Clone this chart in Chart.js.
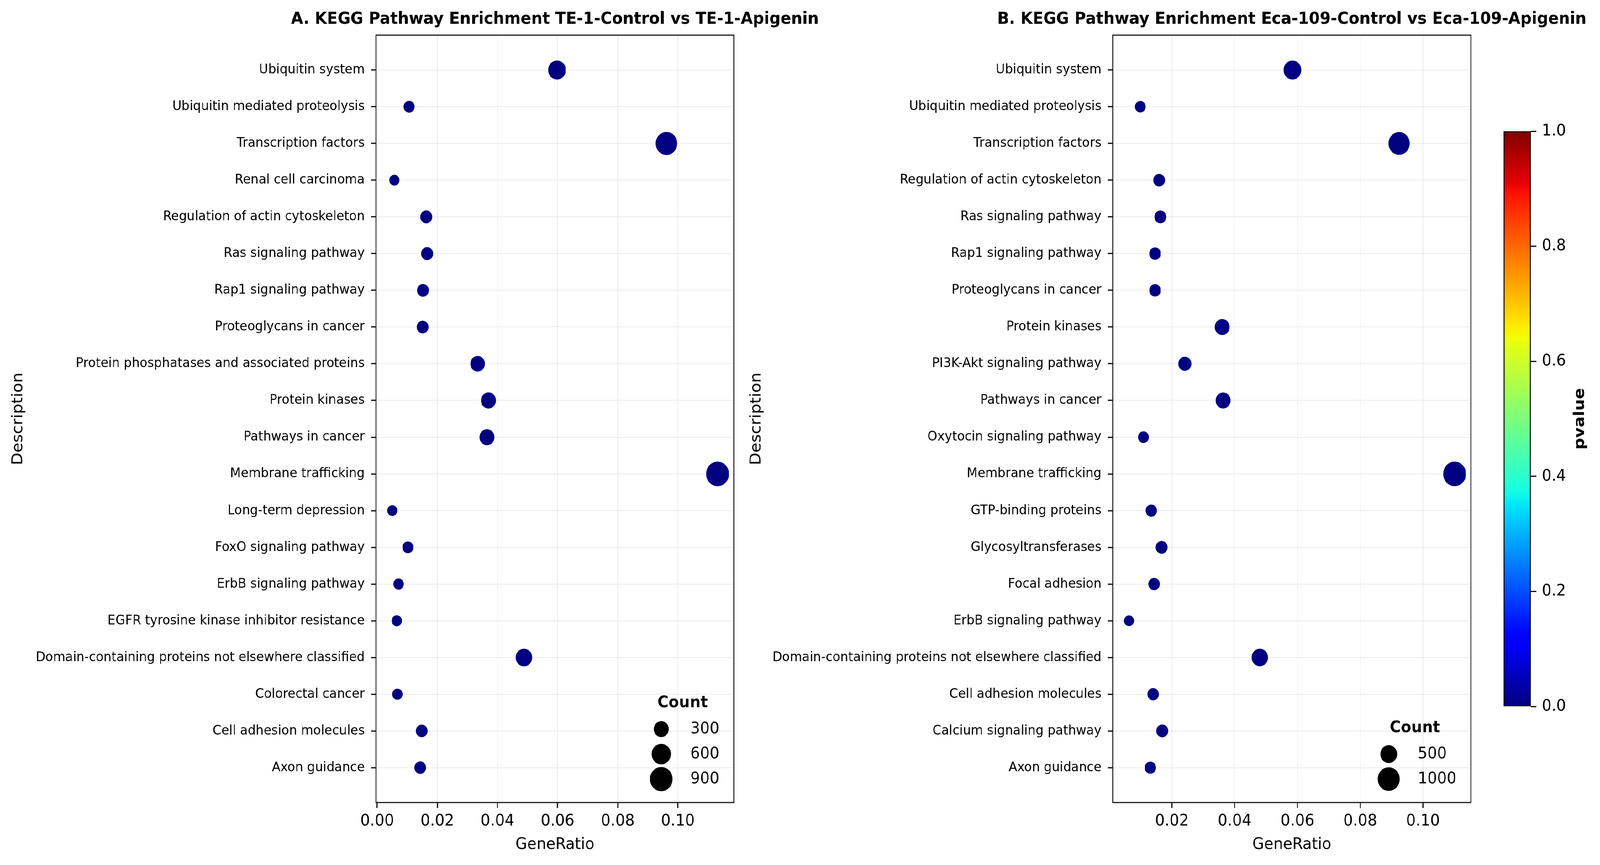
<!DOCTYPE html>
<html>
<head>
<meta charset="utf-8">
<title>KEGG Pathway Enrichment</title>
<script src="https://cdn.jsdelivr.net/npm/chart.js@4.4.1/dist/chart.umd.min.js"></script>
<style>
  html, body { margin: 0; padding: 0; background: #fff; overflow: hidden; }
  #page { position: absolute; left: 0; top: 0; width: 4400px; height: 2215px; transform-origin: 0 0; }
  canvas { position: absolute; top: 0; }
  #chartA { left: 0; }
  #chartB { left: 2030px; }
  #cbar { left: 4000px; }
</style>
</head>
<body>
<div id="page">
  <canvas id="chartA" width="2320" height="2215"></canvas>
  <canvas id="chartB" width="2370" height="2215"></canvas>
  <canvas id="cbar" width="400" height="2215"></canvas>
</div>
<script>
// panel A: TE-1
const termsA = [
  'Ubiquitin system', 'Ubiquitin mediated proteolysis', 'Transcription factors',
  'Renal cell carcinoma', 'Regulation of actin cytoskeleton', 'Ras signaling pathway',
  'Rap1 signaling pathway', 'Proteoglycans in cancer', 'Protein phosphatases and associated proteins',
  'Protein kinases', 'Pathways in cancer', 'Membrane trafficking', 'Long-term depression',
  'FoxO signaling pathway', 'ErbB signaling pathway', 'EGFR tyrosine kinase inhibitor resistance',
  'Domain-containing proteins not elsewhere classified', 'Colorectal cancer',
  'Cell adhesion molecules', 'Axon guidance'
];
const ratioA = [0.0598, 0.0106, 0.0962, 0.0057, 0.0163, 0.0166, 0.0152, 0.0151, 0.0334, 0.0370,
                0.0365, 0.1132, 0.0050, 0.0102, 0.0071, 0.0065, 0.0488, 0.0067, 0.0148, 0.0143];
const countA = [490, 87, 800, 47, 134, 137, 125, 124, 274, 303,
                299, 928, 41, 84, 58, 53, 400, 55, 121, 117];

// panel B: Eca-109
const termsB = [
  'Ubiquitin system', 'Ubiquitin mediated proteolysis', 'Transcription factors',
  'Regulation of actin cytoskeleton', 'Ras signaling pathway', 'Rap1 signaling pathway',
  'Proteoglycans in cancer', 'Protein kinases', 'PI3K-Akt signaling pathway', 'Pathways in cancer',
  'Oxytocin signaling pathway', 'Membrane trafficking', 'GTP-binding proteins',
  'Glycosyltransferases', 'Focal adhesion', 'ErbB signaling pathway',
  'Domain-containing proteins not elsewhere classified', 'Cell adhesion molecules',
  'Calcium signaling pathway', 'Axon guidance'
];
const ratioB = [0.0584, 0.0099, 0.0924, 0.0159, 0.0163, 0.0146, 0.0146, 0.0360, 0.0241, 0.0363,
                0.0109, 0.1101, 0.0134, 0.0167, 0.0143, 0.0063, 0.0480, 0.0140, 0.0169, 0.0131];
const countB = [584, 99, 924, 159, 163, 146, 146, 360, 241, 363,
                109, 1101, 134, 167, 143, 63, 480, 140, 169, 131];

const legendA = [300, 600, 900];
const legendB = [500, 1000];
const xTicksA = [0, 0.02, 0.04, 0.06, 0.08, 0.10];
const xTicksB = [0.02, 0.04, 0.06, 0.08, 0.10];
const pTicks = [0, 0.2, 0.4, 0.6, 0.8, 1.0];

// the layout is drawn in 4400x2215 units, then fitted to whatever the window really is
document.getElementById('page').style.transform =
  `scale(${window.innerWidth / 4400}, ${window.innerHeight / 2215})`;

const FONT = "'DejaVu Sans', sans-serif";
const BIG = 41.67;
const GRID = 'rgba(0,0,0,0.08)';
Chart.defaults.font.family = FONT;
Chart.defaults.color = '#000';

// matplotlib jet
function jet(t) {
  const seg = (pts) => {
    for (let i = 1; i < pts.length; i++) {
      if (t <= pts[i][0]) {
        const [x0, y0] = pts[i - 1], [x1, y1] = pts[i];
        return y0 + (y1 - y0) * (t - x0) / (x1 - x0);
      }
    }
    return pts[pts.length - 1][1];
  };
  const r = seg([[0, 0], [0.35, 0], [0.66, 1], [0.89, 1], [1, 0.5]]);
  const g = seg([[0, 0], [0.125, 0], [0.375, 1], [0.64, 1], [0.91, 0], [1, 0]]);
  const b = seg([[0, 0.5], [0.11, 1], [0.34, 1], [0.65, 0], [1, 0]]);
  return `rgb(${Math.round(r * 255)},${Math.round(g * 255)},${Math.round(b * 255)})`;
}

// all pvalues sit at the bottom of the colour scale
const DOT = jet(0);

// seaborn-like size mapping: area linear in count between smallest and largest dot
const DMIN = 27.5, DMAX = 63;
function sizer(counts) {
  const lo = Math.min(...counts), hi = Math.max(...counts);
  return c => {
    const t = (c - lo) / (hi - lo);
    return Math.sqrt(DMIN * DMIN + t * (DMAX * DMAX - DMIN * DMIN)) / 2 + 1;
  };
}

const frame = {
  id: 'frame',
  beforeDatasetsDraw(chart) {
    const { ctx, chartArea: a } = chart;
    ctx.save();
    ctx.strokeStyle = '#1a1a1a';
    ctx.lineWidth = 3;
    ctx.strokeRect(a.left, a.top, a.right - a.left, a.bottom - a.top);
    ctx.restore();
  }
};

const panelTitle = {
  id: 'panelTitle',
  afterDraw(chart, args, opts) {
    const { ctx, chartArea: a } = chart;
    ctx.save();
    ctx.font = `bold 43px ${FONT}`;
    ctx.fillStyle = '#000';
    ctx.textAlign = 'center';
    ctx.textBaseline = 'middle';
    ctx.fillText(opts.text, (a.left + a.right) / 2, a.top - 40);
    ctx.restore();
  }
};

const countLegend = {
  id: 'countLegend',
  afterDatasetsDraw(chart, args, opts) {
    const { ctx, chartArea: a } = chart;
    const vals = opts.values;
    ctx.save();
    ctx.font = `${BIG}px ${FONT}`;
    const labelW = Math.max(...vals.map(v => ctx.measureText(String(v)).width));
    const labelRight = a.right - 40;
    const labelLeft = labelRight - labelW;
    const dotX = labelLeft - 80;
    const lastY = a.bottom - 60;
    vals.forEach((v, i) => {
      const y = lastY - (vals.length - 1 - i) * 64;
      ctx.beginPath();
      ctx.arc(dotX, y, opts.radius(v), 0, Math.PI * 2);
      ctx.fillStyle = '#000';
      ctx.fill();
      ctx.strokeStyle = '#fff';
      ctx.lineWidth = 2;
      ctx.stroke();
      ctx.fillStyle = '#000';
      ctx.textAlign = 'left';
      ctx.textBaseline = 'middle';
      ctx.fillText(String(v), labelLeft, y);
    });
    const titleY = lastY - (vals.length - 1) * 64 - 67;
    ctx.font = `bold ${BIG}px ${FONT}`;
    ctx.textAlign = 'center';
    ctx.fillText('Count', (dotX - 42 + labelRight) / 2, titleY);
    ctx.restore();
  }
};

function dotPlot(id, title, terms, ratio, count, xTicks, legendVals, yWidth, padRight) {
  const radius = sizer(count);
  const span = Math.max(...ratio) - Math.min(...ratio);
  const n = terms.length;
  return new Chart(document.getElementById(id), {
    type: 'bubble',
    data: {
      datasets: [{
        data: terms.map((t, i) => ({ x: ratio[i], y: i, r: radius(count[i]) })),
        backgroundColor: DOT,
        borderColor: '#fff',
        borderWidth: 2
      }]
    },
    options: {
      responsive: false,
      devicePixelRatio: 1,
      animation: false,
      events: [],
      layout: { padding: { left: 0, top: 90, bottom: 0, right: padRight } },
      plugins: {
        legend: { display: false },
        tooltip: { enabled: false },
        panelTitle: { text: title },
        countLegend: { values: legendVals, radius: radius }
      },
      scales: {
        x: {
          type: 'linear',
          min: Math.min(...ratio) - 0.05 * span,
          max: Math.max(...ratio) + 0.05 * span,
          afterBuildTicks: s => { s.ticks = xTicks.map(v => ({ value: v })); },
          afterFit: s => { s.height = 160; },
          ticks: { callback: v => v.toFixed(2), font: { size: BIG }, padding: 9, maxRotation: 0 },
          grid: { color: GRID, lineWidth: 2, tickColor: '#000', tickLength: 14, tickWidth: 3 },
          border: { display: false },
          title: { display: true, text: 'GeneRatio', font: { size: BIG }, padding: { bottom: 27 } }
        },
        y: {
          type: 'linear',
          reverse: true,
          min: -0.95,
          max: n - 1 + 0.95,
          afterBuildTicks: s => { s.ticks = terms.map((t, i) => ({ value: i })); },
          afterFit: s => { s.width = yWidth; },
          ticks: { callback: v => terms[v], font: { size: 34.5 }, padding: 17, autoSkip: false },
          grid: { color: GRID, lineWidth: 2, tickColor: '#000', tickLength: 14, tickWidth: 3 },
          border: { display: false },
          title: { display: true, text: 'Description', font: { size: BIG }, padding: { top: 25 } }
        }
      }
    },
    plugins: [frame, panelTitle, countLegend]
  });
}

// plot areas: A spans x 1034-2018, B spans x 3060-4045, both y 90-2055
dotPlot('chartA', 'A. KEGG Pathway Enrichment TE-1-Control vs TE-1-Apigenin',
  termsA, ratioA, countA, xTicksA, legendA, 1034, 2320 - 2018);
dotPlot('chartB', 'B. KEGG Pathway Enrichment Eca-109-Control vs Eca-109-Apigenin',
  termsB, ratioB, countB, xTicksB, legendB, 1030, 2370 - (4045 - 2030));

// colour bar
const pvalueLabel = {
  id: 'pvalueLabel',
  afterDraw(chart) {
    const { ctx, chartArea: a } = chart;
    ctx.save();
    ctx.translate(a.right + 135, (a.top + a.bottom) / 2);
    ctx.rotate(-Math.PI / 2);
    ctx.font = `bold ${BIG}px ${FONT}`;
    ctx.fillStyle = '#000';
    ctx.textAlign = 'center';
    ctx.textBaseline = 'middle';
    ctx.fillText('pvalue', 0, 0);
    ctx.restore();
  }
};

function jetGradient(chart) {
  const a = chart.chartArea;
  if (!a) return DOT;
  const g = chart.ctx.createLinearGradient(0, a.bottom, 0, a.top);
  for (let i = 0; i <= 100; i++) g.addColorStop(i / 100, jet(i / 100));
  return g;
}

new Chart(document.getElementById('cbar'), {
  type: 'bar',
  data: {
    labels: ['pvalue'],
    datasets: [{
      data: [1],
      backgroundColor: ctx => jetGradient(ctx.chart),
      borderColor: '#111',
      borderWidth: 3,
      borderSkipped: false,
      barPercentage: 1,
      categoryPercentage: 1
    }]
  },
  options: {
    responsive: false,
    devicePixelRatio: 1,
    animation: false,
    events: [],
    layout: { padding: { left: 135, top: 336, bottom: 406, right: 40 } },
    plugins: { legend: { display: false }, tooltip: { enabled: false } },
    scales: {
      x: { display: false },
      y: {
        position: 'right',
        min: 0,
        max: 1,
        afterBuildTicks: s => { s.ticks = pTicks.map(v => ({ value: v })); },
        afterFit: s => { s.width = 150; },
        ticks: { callback: v => v.toFixed(1), font: { size: BIG }, padding: 15 },
        grid: { drawOnChartArea: false, tickColor: '#000', tickLength: 15, tickWidth: 3 },
        border: { display: false }
      }
    }
  },
  plugins: [pvalueLabel]
});
</script>
</body>
</html>
